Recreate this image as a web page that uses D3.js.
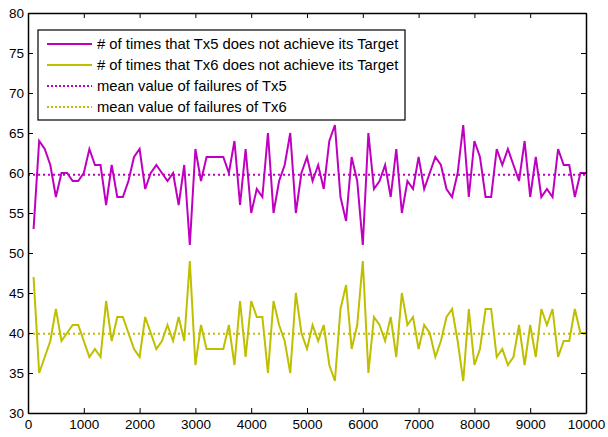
<!DOCTYPE html>
<html>
<head>
<meta charset="utf-8">
<script src="https://cdn.jsdelivr.net/npm/d3@7"></script>
<style>
  body { margin: 0; background: #fff; }
  svg text { font-family: "Liberation Sans", Arial, sans-serif; }
</style>
</head>
<body>
<svg id="chart"></svg>
<script>
var w = 608;
var h = 437;

// failures per 100 iterations, x = 100..10000
var tx5 = [53,64,63,61,57,60,60,59,59,60,63,61,61,56,61,57,57,59,62,63,
           58,60,61,60,59,60,56,61,51,63,59,62,62,62,62,60,64,56,63,55,
           58,57,65,55,59,61,65,55,60,62,59,61,58,64,66,57,54,62,59,51,
           65,58,59,61,57,63,55,59,58,62,58,60,62,61,58,57,60,66,57,64,
           62,57,57,63,61,63,61,59,64,57,62,57,58,57,63,61,61,57,60,60];
var tx6 = [47,35,37,39,43,39,40,41,41,39,37,38,37,44,39,42,42,40,38,37,
           42,40,38,39,41,39,42,39,49,36,41,38,38,38,38,41,36,44,37,44,
           42,42,35,44,41,39,35,45,40,38,41,39,41,36,34,43,46,38,41,49,
           35,42,41,39,42,37,45,41,42,38,41,40,37,39,42,43,39,34,43,36,
           38,43,43,37,38,36,37,41,36,41,37,43,41,43,37,39,39,43,40,40];
var xTicks = [0,1000,2000,3000,4000,5000,6000,7000,8000,9000,10000];
var yTicks = [30,35,40,45,50,55,60,65,70,75,80];
var labels = [
  "# of times that Tx5 does not achieve its Target",
  "# of times that Tx6 does not achieve its Target",
  "mean value of failures of Tx5",
  "mean value of failures of Tx6"
];
var magenta = "#c000c0";
var olive = "#bfbf00";

var margin = {left: 28, right: 22, top: 13, bottom: 24};
var svg = d3.select("#chart").attr("width", w).attr("height", h);

var x = d3.scaleLinear().domain([0, 10000]).range([margin.left, w - margin.right]);
var y = d3.scaleLinear().domain([30, 80]).range([h - margin.bottom, margin.top]);

var pts5 = tx5.map((v, i) => [(i + 1) * 100, v]);
var pts6 = tx6.map((v, i) => [(i + 1) * 100, v]);
var mean5 = d3.mean(tx5);
var mean6 = d3.mean(tx6);

var line = d3.line().x(d => x(d[0])).y(d => y(d[1]));

// mean lines
svg.append("line")
    .attr("x1", x(0)).attr("x2", x(10000))
    .attr("y1", y(mean5)).attr("y2", y(mean5))
    .style("stroke", magenta).style("stroke-width", 2)
    .style("stroke-dasharray", "2,3");
svg.append("line")
    .attr("x1", x(0)).attr("x2", x(10000))
    .attr("y1", y(mean6)).attr("y2", y(mean6))
    .style("stroke", olive).style("stroke-width", 2)
    .style("stroke-dasharray", "2,3");

svg.append("path").datum(pts5)
    .attr("d", line)
    .style("fill", "none").style("stroke", magenta).style("stroke-width", 2);
svg.append("path").datum(pts6)
    .attr("d", line)
    .style("fill", "none").style("stroke", olive).style("stroke-width", 2);

// axes, ticks inside on all sides
var fontSize = "13.5px";
svg.append("g")
    .attr("transform", "translate(0," + y(30) + ")")
    .call(d3.axisBottom(x).tickValues(xTicks).tickFormat(d3.format("d"))
        .tickSizeInner(-5).tickSizeOuter(0).tickPadding(6))
    .call(g => g.selectAll("text").style("font-size", fontSize).attr("fill", "#000"));
svg.append("g")
    .attr("transform", "translate(0," + y(80) + ")")
    .call(d3.axisTop(x).tickValues(xTicks).tickSizeInner(-5).tickSizeOuter(0).tickFormat(""));
svg.append("g")
    .attr("transform", "translate(" + x(0) + ",0)")
    .call(d3.axisLeft(y).tickValues(yTicks).tickSizeInner(-5).tickSizeOuter(0).tickPadding(4))
    .call(g => g.selectAll("text").style("font-size", fontSize).attr("fill", "#000"));
svg.append("g")
    .attr("transform", "translate(" + x(10000) + ",0)")
    .call(d3.axisRight(y).tickValues(yTicks).tickSizeInner(-5).tickSizeOuter(0).tickFormat(""));
svg.selectAll(".domain").style("stroke", "#000").style("stroke-width", 1.5);

// legend
var lg = svg.append("g").attr("transform", "translate(38,30)");
lg.append("rect")
    .attr("width", 367).attr("height", 90)
    .style("fill", "#fff").style("stroke", "#000").style("stroke-width", 1.2);
var styles = [
  {c: magenta, dash: null},
  {c: olive, dash: null},
  {c: magenta, dash: "2,2"},
  {c: olive, dash: "2,2"}
];
labels.forEach(function (t, i) {
  var ry = 14 + i * 21;
  lg.append("line")
      .attr("x1", 9).attr("x2", 54).attr("y1", ry).attr("y2", ry)
      .style("stroke", styles[i].c).style("stroke-width", 2)
      .style("stroke-dasharray", styles[i].dash);
  lg.append("text")
      .attr("x", 59).attr("y", ry + 5)
      .style("font-size", "14.8px")
      .text(t);
});
</script>
</body>
</html>
